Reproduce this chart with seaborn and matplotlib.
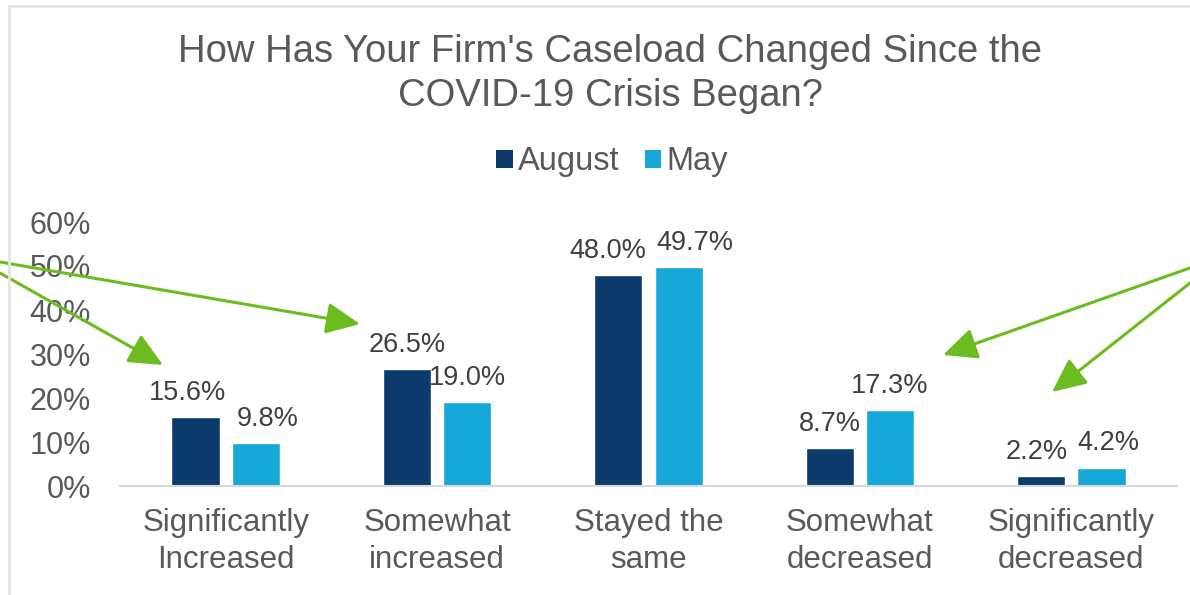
import matplotlib
matplotlib.use("Agg")
import matplotlib.pyplot as plt
import seaborn as sns
import pandas as pd
from matplotlib.patches import Patch, FancyArrowPatch, Rectangle
from matplotlib.ticker import PercentFormatter

categories = ["Significantly\nIncreased", "Somewhat\nincreased", "Stayed the\nsame",
              "Somewhat\ndecreased", "Significantly\ndecreased"]
series_names = ["August", "May"]
august = [15.6, 26.5, 48.0, 8.7, 2.2]
may = [9.8, 19.0, 49.7, 17.3, 4.2]
yticks = [0, 10, 20, 30, 40, 50, 60]
title = "How Has Your Firm's Caseload Changed Since the\nCOVID-19 Crisis Began?"

colors = ["#0b3a6b", "#16a8d8"]
text_color = "#595959"
label_color = "#404040"

df = pd.DataFrame({
    "category": categories * 2,
    "series": [series_names[0]] * len(categories) + [series_names[1]] * len(categories),
    "value": august + may,
})

sns.set_theme(style="white")
plt.rcParams["font.family"] = ["Liberation Sans", "DejaVu Sans"]

W, H = 1190, 595
fig = plt.figure(figsize=(11.9, 5.95), dpi=100)
ax = fig.add_axes([120 / W, 1 - 486 / H, (1177 - 120) / W, (486 - 222) / H])

sns.barplot(data=df, x="category", y="value", hue="series", order=categories,
            hue_order=series_names, palette=colors, width=0.57, gap=0.2,
            saturation=1, ax=ax, legend=False, errorbar=None)

label_sets = []
for cont in ax.containers:
    texts = ax.bar_label(cont, labels=[f"{v:.1f}%" for v in cont.datavalues],
                         padding=8, fontsize=19.5, color=label_color)
    label_sets.append(texts)

ax.set_ylim(0, 60)
ax.set_xlim(-0.5, 4.5)
ax.set_yticks(yticks)
ax.yaxis.set_major_formatter(PercentFormatter(decimals=0))
ax.tick_params(axis="y", length=0, pad=21, labelsize=22, labelcolor=text_color)
ax.tick_params(axis="x", length=0, pad=16, labelsize=22.5, labelcolor=text_color)
for lbl in ax.get_xticklabels():
    lbl.set_linespacing(1.3)
ax.set_xlabel("")
ax.set_ylabel("")
for s in ["top", "right", "left"]:
    ax.spines[s].set_visible(False)
ax.spines["bottom"].set_color("#d9d9d9")
ax.spines["bottom"].set_linewidth(1.5)
ax.grid(False)
ax.patch.set_alpha(0)

# nudge overlapping label pairs apart horizontally
fig.canvas.draw()
r = fig.canvas.get_renderer()
for ta, tb in zip(label_sets[0], label_sets[1]):
    ba, bb = ta.get_window_extent(r), tb.get_window_extent(r)
    if ba.x1 + 4 > bb.x0 and ba.y0 < bb.y1 and bb.y0 < ba.y1:
        ov = (ba.x1 - bb.x0 + 10) * 72 / 100
        ta.xyann = (ta.xyann[0] - ov * 0.4, ta.xyann[1])
        tb.xyann = (tb.xyann[0] + ov * 0.6, tb.xyann[1])

fig.text(610 / W, 1 - 74 / H, title, ha="center", va="center",
         fontsize=27.5, color=text_color, linespacing=1.32)

handles = [Patch(facecolor=c, edgecolor="none") for c in colors]
fig.legend(handles, series_names, loc="center", bbox_to_anchor=(612 / W, 1 - 162 / H),
           ncol=2, frameon=False, fontsize=23.5, handlelength=0.5, handleheight=0.5,
           handletextpad=0.15, columnspacing=0.8, labelcolor=text_color)

# green annotation arrows
green = "#6cbb1f"
arrows = [((0, 262), (360, 324)), ((0, 273), (163, 365)),
          ((1190, 268), (943, 355)), ((1190, 283), (1052, 392))]
for (x0, y0), (x1, y1) in arrows:
    fig.add_artist(FancyArrowPatch((x0 / W, 1 - y0 / H), (x1 / W, 1 - y1 / H),
                                   transform=fig.transFigure,
                                   arrowstyle="-|>,head_length=1.3,head_width=0.6",
                                   mutation_scale=16, color=green, linewidth=2.2,
                                   shrinkA=0, shrinkB=0))

# faint frame at top-left
fig.add_artist(Rectangle((9 / W, -0.1), 1.2, 1.1 - 6 / H, transform=fig.transFigure,
                         fill=False, edgecolor="#e3e3e3", linewidth=2))

fig.savefig("out.png", dpi=100)
